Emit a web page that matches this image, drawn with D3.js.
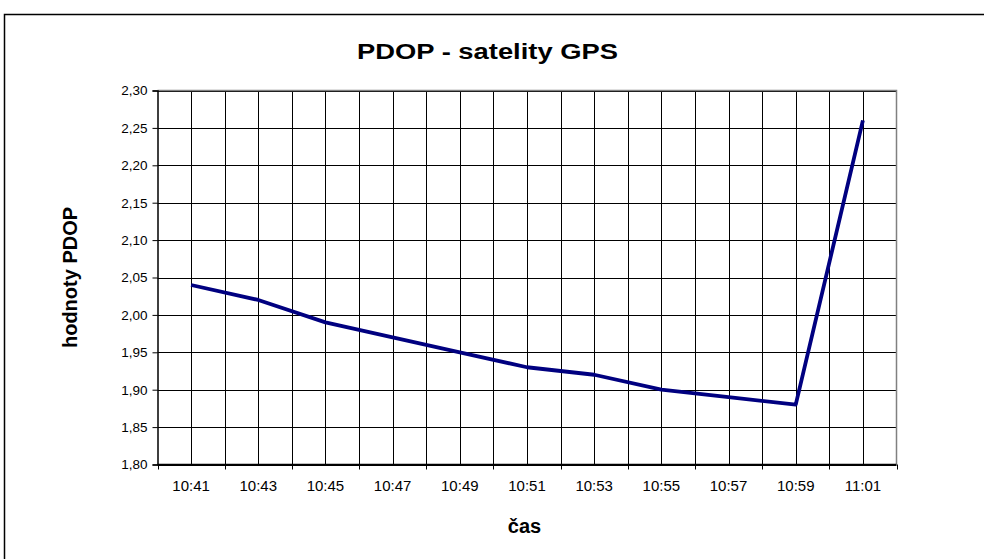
<!DOCTYPE html>
<html><head><meta charset="utf-8">
<script src="https://cdn.jsdelivr.net/npm/d3@7"></script>
<style>body{margin:0;background:#fff;}svg{display:block;font-family:"Liberation Sans",Arial,sans-serif;}</style>
</head><body><svg id="c" width="984" height="559"></svg>
<script>
const categories = ["10:41","10:43","10:45","10:47","10:49","10:51","10:53","10:55","10:57","10:59","11:01"];
const pdopValues = [2.04, 2.02, 1.99, 1.97, 1.95, 1.93, 1.92, 1.90, 1.89, 1.88, 2.26];
const yTicks = [1.80,1.85,1.90,1.95,2.00,2.05,2.10,2.15,2.20,2.25,2.30];
const titleText = "PDOP - satelity GPS";
const xTitle = "čas";
const yTitle = "hodnoty PDOP";

const svg = d3.select("#c");
const L = 157.5, R = 896.5, T = 90.5, B = 464.5;

svg.append("rect").attr("x",4.5).attr("y",14.5).attr("width",1000).attr("height",600)
  .attr("fill","#fff").attr("stroke","#000").attr("stroke-width",1.5);

const x = d3.scaleBand().domain(categories).range([L,R]).padding(0);
const y = d3.scaleLinear().domain([1.80,2.30]).range([B,T]);
const fmt = v => d3.format(".2f")(v).replace(".",",");

const g = svg.append("g");
g.selectAll(".hg").data(yTicks).join("line")
  .attr("x1",L).attr("x2",R).attr("y1",d=>Math.round(y(d))+0.5).attr("y2",d=>Math.round(y(d))+0.5)
  .attr("stroke","#000").attr("stroke-width",1);
const vpos = [];
categories.forEach(c=>{ vpos.push(x(c)); vpos.push(x(c)+x.bandwidth()/2); });
g.selectAll(".vg").data(vpos.slice(1)).join("line")
  .attr("x1",d=>Math.round(d)+0.5).attr("x2",d=>Math.round(d)+0.5).attr("y1",T).attr("y2",B)
  .attr("stroke","#000").attr("stroke-width",1);
g.append("path").attr("d",`M${L},${T}H${R}V${B}`).attr("fill","none").attr("stroke","#808080").attr("stroke-width",1.5);

const yAxis = d3.axisLeft(y).tickValues(yTicks).tickFormat(fmt).tickSize(5).tickPadding(5);
const ya = svg.append("g").attr("transform",`translate(${L},0)`).call(yAxis);
ya.select(".domain").attr("stroke","#000").attr("stroke-width",1.5);
ya.selectAll("text").attr("font-size",13.5).attr("fill","#000").attr("font-family","Liberation Sans, Arial, sans-serif");

const xa = svg.append("g").attr("transform",`translate(0,${B})`);
xa.append("line").attr("x1",L).attr("x2",R).attr("stroke","#000").attr("stroke-width",1.5);
const bounds = categories.map(c=>x(c)).concat([R]);
xa.selectAll(".tk").data(bounds).join("line")
  .attr("x1",d=>Math.round(d)+0.5).attr("x2",d=>Math.round(d)+0.5).attr("y1",0).attr("y2",5)
  .attr("stroke","#000");
xa.selectAll(".lb").data(categories).join("text")
  .attr("x",d=>x(d)+x.bandwidth()/2).attr("y",26.5).attr("text-anchor","middle")
  .attr("font-size",15).text(d=>d);

const line = d3.line().x((d,i)=>x(categories[i])+x.bandwidth()/2).y(d=>y(d));
svg.append("path").datum(pdopValues).attr("d",line).attr("fill","none")
  .attr("stroke","#000080").attr("stroke-width",3.8).attr("stroke-linejoin","round");

svg.append("text").attr("x",487.5).attr("y",59).attr("text-anchor","middle")
  .attr("font-size",22).attr("font-weight","bold")
  .attr("textLength",261).attr("lengthAdjust","spacingAndGlyphs").text(titleText);
svg.append("text").attr("x",524.5).attr("y",533).attr("text-anchor","middle")
  .attr("font-size",20).attr("font-weight","bold").text(xTitle);
svg.append("text").attr("transform","translate(77,277.5) rotate(-90)").attr("text-anchor","middle")
  .attr("font-size",20).attr("font-weight","bold").text(yTitle);
</script></body></html>
